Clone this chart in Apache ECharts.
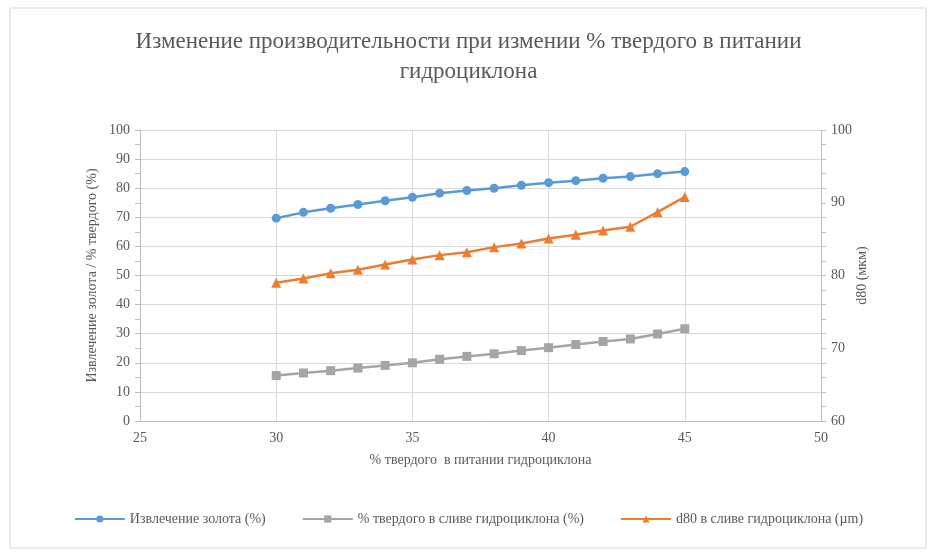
<!DOCTYPE html>
<html>
<head>
<meta charset="utf-8">
<script src="https://cdn.jsdelivr.net/npm/echarts@6/dist/echarts.min.js"></script>
<style>
  html, body { margin: 0; padding: 0; background: #fff; }
  #chart { width: 937px; height: 553px; }
</style>
</head>
<body>
<div id="chart"></div>
<script>
  // % твердого в питании (ось X)
  const xVals = [30, 31, 32, 33, 34, 35, 36, 37, 38, 39, 40, 41, 42, 43, 44, 45];
  // извлечение золота, %
  const recovery = [69.7, 71.7, 73.1, 74.4, 75.7, 76.9, 78.3, 79.2, 80.0, 81.0, 81.9, 82.6, 83.4, 84.0, 85.0, 85.7];
  // % твердого в сливе
  const solidsOverflow = [15.6, 16.5, 17.3, 18.2, 19.1, 20.0, 21.2, 22.2, 23.1, 24.2, 25.2, 26.3, 27.3, 28.2, 29.9, 31.7];
  // d80 в сливе, мкм (правая ось)
  const d80 = [79.0, 79.6, 80.3, 80.8, 81.5, 82.2, 82.8, 83.2, 83.9, 84.4, 85.1, 85.6, 86.2, 86.7, 88.7, 90.8];

  const names = ['Извлечение золота (%)', '% твердого в сливе гидроциклона (%)', 'd80 в сливе гидроциклона (µm)'];
  const colors = ['#5B9BD5', '#A5A5A5', '#ED7D31'];
  const font = '"Liberation Serif", "DejaVu Serif", serif';
  const txt = '#595959';

  const pairs = arr => xVals.map((x, i) => [x, arr[i]]);

  const chart = echarts.init(document.getElementById('chart'));
  chart.setOption({
    color: colors,
    textStyle: { fontFamily: font },
    graphic: [{
      type: 'rect',
      shape: { x: 10, y: 8, width: 916, height: 540 },
      style: { fill: 'none', stroke: '#D9D9D9', lineWidth: 1 }
    }],
    title: {
      text: 'Изменение производительности при измении % твердого в питании\nгидроциклона',
      left: 'center',
      top: 22,
      textStyle: { fontFamily: font, fontSize: 23, fontWeight: 'normal', color: txt, lineHeight: 30 }
    },
    legend: {
      data: names,
      bottom: 22,
      left: 'center',
      itemWidth: 50,
      itemHeight: 9,
      itemGap: 36,
      textStyle: { fontFamily: font, fontSize: 14, color: txt }
    },
    grid: { left: 140, right: 116, top: 130, bottom: 132 },
    xAxis: {
      type: 'value',
      min: 25, max: 50, interval: 5,
      name: '% твердого  в питании гидроциклона',
      nameLocation: 'middle',
      nameGap: 32,
      nameTextStyle: { fontFamily: font, fontSize: 14, color: txt },
      axisLine: { lineStyle: { color: '#BFBFBF' } },
      axisTick: { show: false },
      axisLabel: { fontFamily: font, fontSize: 14, color: txt, margin: 10 },
      splitLine: { show: true, lineStyle: { color: '#D9D9D9' } }
    },
    yAxis: [{
      type: 'value',
      min: 0, max: 100, interval: 10,
      name: 'Извлечение золота / % твердого (%)',
      nameLocation: 'middle',
      nameRotate: 90,
      nameGap: 41,
      nameMoveOverlap: false,
      nameTextStyle: { fontFamily: font, fontSize: 14, color: txt },
      axisLine: { show: true, lineStyle: { color: '#BFBFBF' } },
      axisTick: { show: true, length: 5, lineStyle: { color: '#BFBFBF' } },
      minorTick: { show: true, splitNumber: 2, length: 5, lineStyle: { color: '#BFBFBF' } },
      axisLabel: { fontFamily: font, fontSize: 14, color: txt, margin: 10 },
      splitLine: { show: true, lineStyle: { color: '#D9D9D9' } }
    }, {
      type: 'value',
      position: 'right',
      min: 60, max: 100, interval: 10,
      name: 'd80 (мкм)',
      nameLocation: 'middle',
      nameRotate: 90,
      nameGap: 34,
      nameMoveOverlap: false,
      nameTextStyle: { fontFamily: font, fontSize: 14, color: txt },
      axisLine: { show: true, lineStyle: { color: '#BFBFBF' } },
      axisTick: { show: true, length: 5, lineStyle: { color: '#BFBFBF' } },
      minorTick: { show: true, splitNumber: 5, length: 5, lineStyle: { color: '#BFBFBF' } },
      axisLabel: { fontFamily: font, fontSize: 14, color: txt, margin: 10 },
      splitLine: { show: false }
    }],
    series: [{
      name: names[0],
      type: 'line',
      yAxisIndex: 0,
      data: pairs(recovery),
      symbol: 'circle',
      symbolSize: 9,
      lineStyle: { width: 2.5 }
    }, {
      name: names[1],
      type: 'line',
      yAxisIndex: 0,
      data: pairs(solidsOverflow),
      symbol: 'rect',
      symbolSize: 9,
      lineStyle: { width: 2.5 }
    }, {
      name: names[2],
      type: 'line',
      yAxisIndex: 1,
      data: pairs(d80),
      symbol: 'triangle',
      symbolSize: 10,
      lineStyle: { width: 2.5 }
    }]
  });
</script>
</body>
</html>
